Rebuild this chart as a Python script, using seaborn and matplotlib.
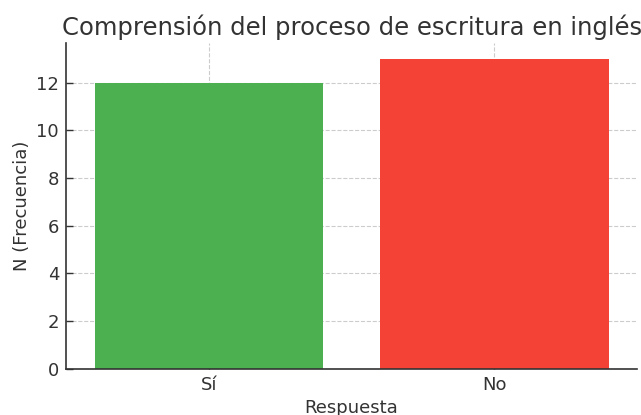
import matplotlib
matplotlib.use("Agg")
import matplotlib.pyplot as plt
import seaborn as sns
import pandas as pd

respuestas = ["Sí", "No"]
frecuencias = [12, 13]
colores = ["#4CAF50", "#F44336"]

sns.set_theme(style="whitegrid")
plt.rcParams['font.family'] = ['DejaVu Sans']

df = pd.DataFrame({"Respuesta": respuestas, "N": frecuencias})

fig = plt.figure(figsize=(6.41, 4.15), dpi=100)
ax = fig.add_axes([0.103, 0.111, 0.891, 0.785])
sns.barplot(data=df, x="Respuesta", y="N", hue="Respuesta", palette=colores,
            legend=False, ax=ax, width=0.8, saturation=1, linewidth=0)
ax.set_title("Comprensión del proceso de escritura en inglés", fontsize=17.5, color="#333333")
ax.set_xlabel("Respuesta", fontsize=13, color="#333333", labelpad=4)
ax.set_ylabel("N (Frecuencia)", fontsize=13, color="#333333")
ax.tick_params(axis="both", labelsize=13, colors="#333333", length=5, width=1,
               direction="in", left=True, bottom=True, pad=5)
ax.grid(True, linestyle="--", color="#cccccc", linewidth=0.8)
ax.set_axisbelow(True)
for s in ["top", "right"]:
    ax.spines[s].set_visible(False)
for s in ["left", "bottom"]:
    ax.spines[s].set_color("#333333")
    ax.spines[s].set_linewidth(1.2)
ax.set_ylim(0, 13.65)
ax.set_xlim(-0.5, 1.5)
fig.savefig("out.png", dpi=100)
